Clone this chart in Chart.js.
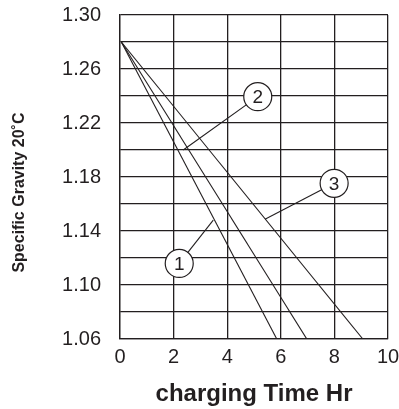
<!DOCTYPE html>
<html>
<head>
<meta charset="utf-8">
<script src="https://cdn.jsdelivr.net/npm/chart.js@4/dist/chart.umd.min.js"></script>
<style>
  body { margin: 0; background: #fff; }
</style>
</head>
<body>
<canvas id="chart" width="399" height="409"></canvas>
<script>
// charging curves, start at 1.28 and run down to 1.06
var hours1 = [0.05, 5.85];
var gravity1 = [1.28, 1.06];
var hours2 = [0.05, 6.97];
var gravity2 = [1.28, 1.06];
var hours3 = [0.05, 9.06];
var gravity3 = [1.28, 1.06];

// numbered callouts and where their leader lines touch the curves
var calloutNames = ['1', '2', '3'];
var calloutHours = [2.21, 5.14, 7.99];
var calloutGravity = [1.116, 1.2395, 1.1753];
var pointerHours = [3.48, 2.36, 5.41];
var pointerGravity = [1.148, 1.20, 1.1487];

var xTicks = [0, 2, 4, 6, 8, 10];
var yTicks = ['1.06', '1.10', '1.14', '1.18', '1.22', '1.26', '1.30'];

function pts(xs, ys) {
    var out = [];
    for (var i = 0; i < xs.length; i++) out.push({ x: xs[i], y: ys[i] });
    return out;
}

var font = "'Liberation Sans', Arial, sans-serif";
var ink = '#231f20';

var datasets = [];
// callout circles first so they are drawn on top
datasets.push({
    type: 'scatter',
    data: pts(calloutHours, calloutGravity),
    pointRadius: 14,
    pointBackgroundColor: '#fff',
    pointBorderColor: ink,
    pointBorderWidth: 1.2,
    showLine: false
});
for (var i = 0; i < calloutNames.length; i++) {
    datasets.push({
        type: 'line',
        data: [{ x: calloutHours[i], y: calloutGravity[i] }, { x: pointerHours[i], y: pointerGravity[i] }],
        borderColor: ink,
        borderWidth: 1.1,
        pointRadius: 0,
        fill: false
    });
}
[[hours1, gravity1], [hours2, gravity2], [hours3, gravity3]].forEach(function (c) {
    datasets.push({
        type: 'line',
        data: pts(c[0], c[1]),
        borderColor: ink,
        borderWidth: 1.1,
        pointRadius: 0,
        fill: false
    });
});

var calloutText = {
    id: 'calloutText',
    afterDatasetsDraw: function (chart) {
        var ctx = chart.ctx;
        var meta = chart.getDatasetMeta(0);
        ctx.save();
        ctx.fillStyle = ink;
        ctx.font = '19px ' + font;
        ctx.textAlign = 'center';
        ctx.textBaseline = 'middle';
        meta.data.forEach(function (p, i) {
            ctx.fillText(calloutNames[i], p.x, p.y + 1);
        });
        ctx.restore();
    }
};

new Chart(document.getElementById('chart'), {
    type: 'line',
    data: { datasets: datasets },
    plugins: [calloutText],
    options: {
        responsive: false,
        animation: false,
        layout: { autoPadding: false, padding: { top: 15, right: 11, bottom: 0, left: 0 } },
        plugins: { legend: { display: false }, tooltip: { enabled: false } },
        scales: {
            x: {
                type: 'linear',
                min: 0,
                max: 10,
                afterFit: function (s) {
                    s.height = 70;
                    s.paddingLeft = 0;
                    s.paddingRight = 0;
                },
                afterBuildTicks: function (s) {
                    s.ticks = xTicks.map(function (v) { return { value: v }; });
                },
                grid: { color: ink, lineWidth: 1.3, drawTicks: false },
                border: { color: ink, width: 1.3 },
                ticks: {
                    padding: 6,
                    color: ink,
                    autoSkip: false,
                    font: { family: font, size: 20 },
                    maxRotation: 0,
                    callback: function (v) { return String(v); }
                },
                title: {
                    display: true,
                    text: 'charging Time Hr',
                    color: ink,
                    font: { family: font, size: 24, weight: 'bold' },
                    padding: { top: 0, bottom: 0 }
                }
            },
            y: {
                type: 'linear',
                min: 1.06,
                max: 1.30,
                afterFit: function (s) {
                    s.width = 120;
                    s.paddingTop = 0;
                    s.paddingBottom = 0;
                },
                afterBuildTicks: function (s) {
                    var t = [];
                    for (var k = 0; k <= 12; k++) t.push({ value: 1.06 + k * 0.02 });
                    s.ticks = t;
                },
                grid: { color: ink, lineWidth: 1.3, drawTicks: false },
                border: { color: ink, width: 1.3 },
                ticks: {
                    padding: 19,
                    color: ink,
                    autoSkip: false,
                    font: { family: font, size: 20 },
                    callback: function (v, idx) {
                        return idx % 2 === 0 ? yTicks[idx / 2] : '';
                    }
                },
                title: {
                    display: true,
                    text: 'Specific Gravity 20˚C\u00a0\u00a0\u00a0\u00a0\u00a0\u00a0\u00a0',
                    color: ink,
                    font: { family: font, size: 16, weight: 'bold' },
                    padding: { top: 10, bottom: 0 }
                }
            }
        }
    }
});
</script>
</body>
</html>
